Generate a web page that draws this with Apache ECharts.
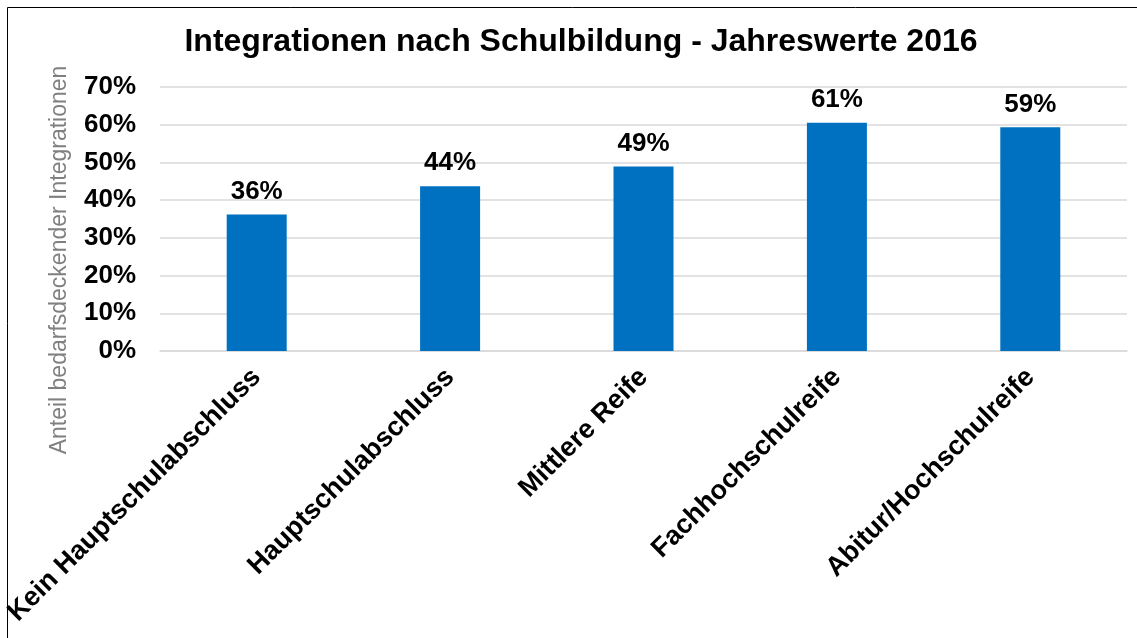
<!DOCTYPE html>
<html>
<head>
<meta charset="utf-8">
<script src="https://cdn.jsdelivr.net/npm/echarts@6/dist/echarts.min.js"></script>
<style>
  html, body { margin: 0; padding: 0; background: #fff; }
  #main { width: 1137px; height: 638px; }
</style>
</head>
<body>
<div id="main"></div>
<script>
const categories = ["Kein Hauptschulabschluss", "Hauptschulabschluss", "Mittlere Reife", "Fachhochschulreife", "Abitur/Hochschulreife"];
const values = [36.2, 43.7, 48.9, 60.5, 59.3];
const yTicks = [0, 10, 20, 30, 40, 50, 60, 70];

const font = 'Arial, "Liberation Sans", sans-serif';

var myChart = echarts.init(document.querySelector("#main"));
myChart.setOption({
  animation: false,
  title: {
    text: "Integrationen nach Schulbildung - Jahreswerte 2016",
    left: 576,
    textAlign: "center",
    top: 21,
    textStyle: { fontFamily: font, fontSize: 32, fontWeight: "bold", color: "#000" }
  },
  graphic: [
    {
      type: "rect",
      shape: { x: 7.5, y: 7.5, width: 1150, height: 650 },
      style: { fill: "none", stroke: "#000", lineWidth: 1 },
      silent: true
    },
    {
      type: "text",
      x: 60,
      y: 260,
      rotation: Math.PI / 2,
      style: {
        text: "Anteil bedarfsdeckender Integrationen",
        font: "23px " + font,
        fill: "#808080",
        align: "center",
        verticalAlign: "middle"
      }
    }
  ],
  grid: { left: 160, right: 10, top: 87, bottom: 287 },
  xAxis: {
    type: "category",
    data: categories,
    axisLine: { lineStyle: { color: "#d9d9d9", width: 1.5 } },
    axisTick: { show: false },
    axisLabel: {
      rotate: 45,
      margin: 22,
      interval: 0,
      fontFamily: font,
      fontSize: 27,
      fontWeight: "bold",
      color: "#000"
    }
  },
  yAxis: {
    type: "value",
    min: yTicks[0],
    max: yTicks[yTicks.length - 1],
    interval: 10,
    axisLine: { show: false },
    axisTick: { show: false },
    splitLine: { lineStyle: { color: "#d9d9d9", width: 1.5 } },
    axisLabel: {
      margin: 24,
      formatter: "{value}%",
      fontFamily: font,
      fontSize: 26,
      fontWeight: "bold",
      color: "#000"
    }
  },
  series: [
    {
      type: "bar",
      data: values,
      barWidth: 60,
      itemStyle: { color: "#0070C0" },
      label: {
        show: true,
        position: "top",
        distance: 10,
        formatter: (p) => Math.round(p.value) + "%",
        fontFamily: font,
        fontSize: 26,
        fontWeight: "bold",
        color: "#000"
      }
    }
  ]
});
</script>
</body>
</html>
